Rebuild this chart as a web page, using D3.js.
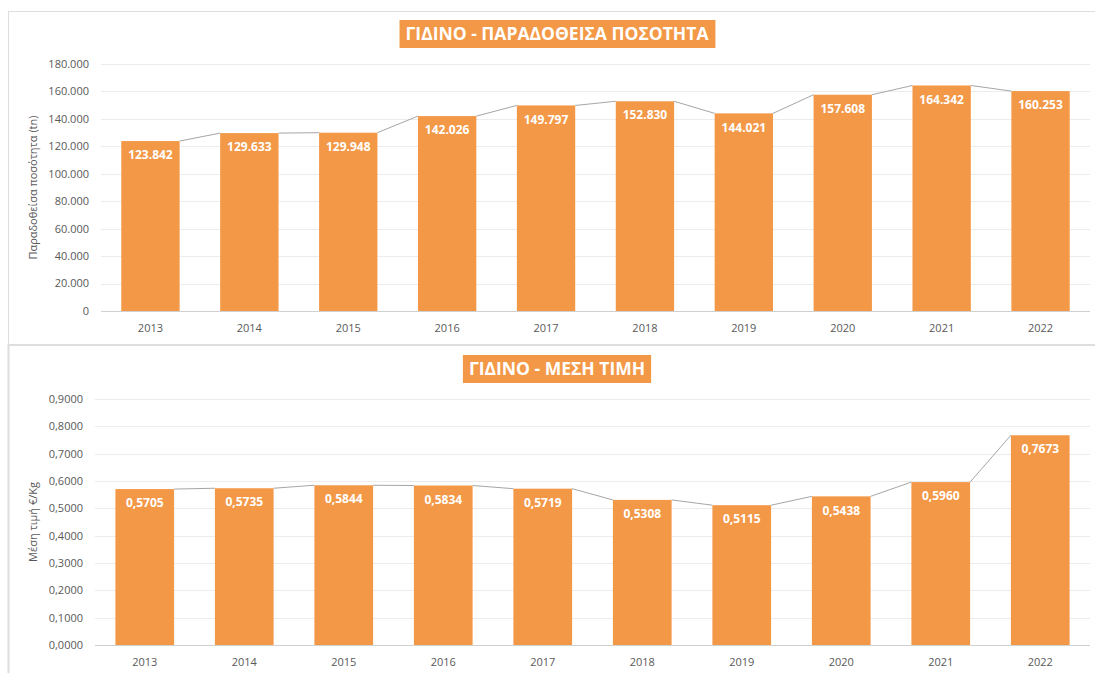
<!DOCTYPE html>
<html>
<head>
<meta charset="utf-8">
<script src="https://cdn.jsdelivr.net/npm/d3@7"></script>
<style>
  body { margin: 0; background: #fff; }
  svg { display: block; font-family: "Open Sans", sans-serif; }
</style>
</head>
<body>
<svg id="chart" width="1095" height="673"></svg>
<script>
var years = ["2013", "2014", "2015", "2016", "2017", "2018", "2019", "2020", "2021", "2022"];
var quantity = [123842, 129633, 129948, 142026, 149797, 152830, 144021, 157608, 164342, 160253];
var avgPrice = [0.5705, 0.5735, 0.5844, 0.5834, 0.5719, 0.5308, 0.5115, 0.5438, 0.5960, 0.7673];
var quantityTicks = [0, 20000, 40000, 60000, 80000, 100000, 120000, 140000, 160000, 180000];
var priceTicks = [0, 0.1, 0.2, 0.3, 0.4, 0.5, 0.6, 0.7, 0.8, 0.9];

var barColor = "#F39847";
var svg = d3.select("#chart");

var gr = d3.formatLocale({ decimal: ",", thousands: ".", grouping: [3], currency: ["", "€"] });
var fmtQty = gr.format(",.0f");
var fmtPrice = gr.format(".4f");

// panel frames
svg.append("rect").attr("x", 8.5).attr("y", 11.5).attr("width", 1100).attr("height", 333)
  .attr("fill", "none").attr("stroke", "#dedede");
svg.append("rect").attr("x", 8.5).attr("y", 345).attr("width", 1100).attr("height", 340)
  .attr("fill", "none").attr("stroke", "#dedede").attr("stroke-width", 2);

function makeChart(opt) {
  var x = d3.scaleBand().domain(years).range([opt.left, opt.right])
    .paddingInner(0.41).paddingOuter(0.205);
  var y = d3.scaleLinear().domain([0, opt.max]).range([opt.bottom, opt.top]);

  var g = svg.append("g");

  // grid
  g.append("g").selectAll("line").data(opt.ticks).enter().append("line")
    .attr("x1", opt.left).attr("x2", opt.right)
    .attr("y1", function (d) { return Math.round(y(d)) + 0.5; })
    .attr("y2", function (d) { return Math.round(y(d)) + 0.5; })
    .attr("stroke", function (d) { return d === 0 ? "#d0d0d0" : "#ececec"; });

  // y tick labels
  g.append("g").selectAll("text").data(opt.ticks).enter().append("text")
    .text(opt.tickFmt)
    .attr("x", opt.left - 12)
    .attr("y", function (d) { return y(d); })
    .attr("dy", "0.35em")
    .attr("text-anchor", "end")
    .attr("font-size", 11)
    .attr("fill", "#595959");

  // x labels
  g.append("g").selectAll("text").data(years).enter().append("text")
    .text(function (d) { return d; })
    .attr("x", function (d) { return x(d) + x.bandwidth() / 2; })
    .attr("y", opt.bottom + 17)
    .attr("dy", "0.35em")
    .attr("text-anchor", "middle")
    .attr("font-size", 11)
    .attr("fill", "#595959");

  // connectors between bar tops
  var conn = [];
  for (var i = 0; i < years.length - 1; i++) {
    conn.push([x(years[i]) + x.bandwidth(), y(opt.values[i]), x(years[i + 1]), y(opt.values[i + 1])]);
  }
  g.append("g").selectAll("line").data(conn).enter().append("line")
    .attr("x1", function (d) { return d[0]; }).attr("y1", function (d) { return d[1]; })
    .attr("x2", function (d) { return d[2]; }).attr("y2", function (d) { return d[3]; })
    .attr("stroke", "#a6a6a6").attr("stroke-width", 1);

  // bars
  g.append("g").selectAll("rect").data(opt.values).enter().append("rect")
    .attr("x", function (d, i) { return x(years[i]); })
    .attr("y", function (d) { return y(d); })
    .attr("width", x.bandwidth())
    .attr("height", function (d) { return opt.bottom - y(d); })
    .attr("fill", barColor);

  // value labels
  g.append("g").selectAll("text").data(opt.values).enter().append("text")
    .text(opt.valFmt)
    .attr("x", function (d, i) { return x(years[i]) + x.bandwidth() / 2; })
    .attr("y", function (d) { return y(d) + 14; })
    .attr("dy", "0.35em")
    .attr("text-anchor", "middle")
    .attr("font-size", 12)
    .attr("font-weight", "bold")
    .attr("fill", "#fff");

  // y axis title
  svg.append("text")
    .text(opt.yTitle)
    .attr("transform", "translate(37," + (opt.top + opt.bottom) / 2 + ") rotate(-90)")
    .attr("text-anchor", "middle")
    .attr("font-size", 11)
    .attr("fill", "#595959");

  // title box
  var t = svg.append("text")
    .text(opt.title)
    .attr("x", 557)
    .attr("y", opt.titleY)
    .attr("dy", "0.35em")
    .attr("text-anchor", "middle")
    .attr("font-size", 17.5)
    .attr("font-weight", "bold")
    .attr("fill", "#fff");
  var bb = t.node().getBBox();
  svg.insert("rect", function () { return t.node(); })
    .attr("x", bb.x - 6).attr("y", opt.titleY - 14)
    .attr("width", bb.width + 12).attr("height", 28)
    .attr("fill", barColor);
}

makeChart({
  values: quantity, ticks: quantityTicks, max: 180000,
  left: 101, right: 1090, top: 64, bottom: 311,
  tickFmt: function (d) { return fmtQty(d); },
  valFmt: function (d) { return fmtQty(d); },
  yTitle: "Παραδοθείσα ποσότητα (tn)",
  title: "ΓΙΔΙΝΟ - ΠΑΡΑΔΟΘΕΙΣΑ ΠΟΣΟΤΗΤΑ", titleY: 34
});

makeChart({
  values: avgPrice, ticks: priceTicks, max: 0.9,
  left: 95, right: 1090, top: 399, bottom: 645,
  tickFmt: function (d) { return fmtPrice(d); },
  valFmt: function (d) { return fmtPrice(d); },
  yTitle: "Μέση τιμή €/Kg",
  title: "ΓΙΔΙΝΟ - ΜΕΣΗ ΤΙΜΗ", titleY: 369
});
</script>
</body>
</html>
